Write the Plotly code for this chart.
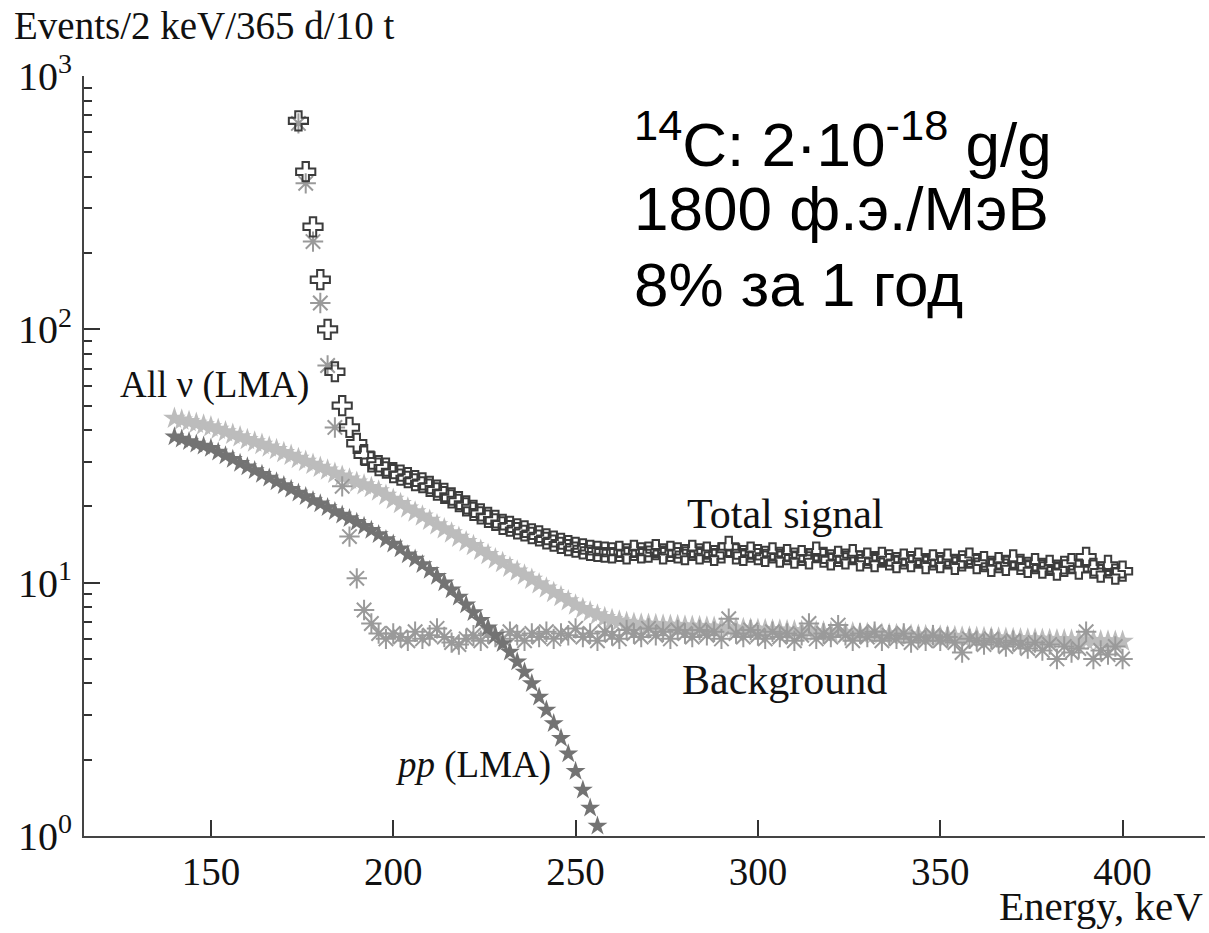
import plotly.graph_objects as go

# ---------------- data ----------------
energy_nu = list(range(140, 401, 2))          # keV, All nu (LMA)
all_nu = [
    44.5, 43.8, 43.2, 42.5, 41.9, 41.2, 40.3, 39.4, 38.5, 37.6,
    36.7, 35.9, 35.1, 34.3, 33.5, 32.6, 31.8, 30.9, 30.1, 29.3,
    28.5, 27.8, 27.0, 26.3, 25.6, 24.9, 24.3, 23.7, 23.0, 22.1,
    21.3, 20.5, 19.7, 19.0, 18.3, 17.6, 16.9, 16.3, 15.7, 15.1,
    14.5, 14.0, 13.4, 12.9, 12.4, 12.0, 11.5, 11.1, 10.7, 10.3,
    9.89, 9.51, 9.14, 8.81, 8.47, 8.15, 7.89, 7.66, 7.45, 7.28,
    7.14, 7.05, 6.97, 6.90, 6.86, 6.84, 6.82, 6.80, 6.78, 6.76,
    6.74, 6.72, 6.70, 6.68, 6.66, 6.64, 6.62, 6.60, 6.58, 6.56,
    6.54, 6.52, 6.50, 6.49, 6.47, 6.45, 6.44, 6.42, 6.40, 6.39,
    6.37, 6.36, 6.34, 6.33, 6.31, 6.30, 6.28, 6.27, 6.25, 6.24,
    6.22, 6.21, 6.19, 6.18, 6.16, 6.15, 6.13, 6.12, 6.10, 6.09,
    6.08, 6.06, 6.05, 6.04, 6.02, 6.01, 6.00, 5.99, 5.98, 5.97,
    5.96, 5.95, 5.94, 5.93, 5.92, 5.91, 5.90, 5.89, 5.88, 5.87,
    5.86,
]

energy_pp = list(range(140, 257, 2))          # keV, pp (LMA)
pp_lma = [
    37.7, 36.9, 36.1, 35.3, 34.6, 33.9, 32.8, 31.7, 30.7, 29.6,
    28.7, 27.7, 26.8, 25.9, 25.0, 24.2, 23.4, 22.6, 21.9, 21.1,
    20.5, 19.8, 19.1, 18.5, 17.9, 17.3, 16.7, 16.1, 15.5, 14.8,
    14.2, 13.6, 12.9, 12.4, 11.8, 11.2, 10.6, 10.0, 9.38, 8.77,
    8.18, 7.62, 7.1, 6.64, 6.2, 5.75, 5.33, 4.87, 4.44, 4.0,
    3.54, 3.14, 2.78, 2.43, 2.11, 1.80, 1.52, 1.29, 1.095,
]

energy_sig = list(range(174, 401, 2))         # keV, total signal & background
total_signal = [
    665, 419, 254, 157, 100, 68, 50, 41, 35.5, 32, 30, 29, 28.3, 27.2,
    26.6, 26.0, 25.3, 24.8, 24.0, 23.2, 22.5, 21.6, 20.9, 20.1,
    19.3, 18.7, 18.1, 17.6, 17.0, 16.7, 16.3, 16.0, 15.6, 15.3,
    14.9, 14.6, 14.3, 14.0, 13.8,
    13.6, 13.4, 13.3, 13.2, 13.1, 13.3, 13.0, 13.4, 13.1, 13.2,
    13.5, 13.0, 13.3, 13.1, 12.9, 13.4, 13.0, 13.2, 12.8, 13.1,
    13.9, 13.0, 12.8, 13.2, 12.9,
    12.7, 13.1, 12.6, 12.9, 12.5, 12.8, 12.4, 13.2, 12.6, 12.3,
    12.7, 12.4, 12.9, 12.2, 12.5, 12.1, 12.6, 12.3, 12.0, 12.4,
    12.1, 12.5, 11.9, 12.3, 12.0,
    12.4, 11.8, 12.2, 12.5, 11.9, 12.1, 11.6, 12.0, 11.7, 12.3,
    11.8, 11.5, 11.9, 11.4, 11.7, 11.2, 11.6, 11.9, 11.3, 12.6,
    11.4, 11.0, 11.7, 10.8, 11.1,
]
background = [
    650, 377, 222, 127, 72, 41, 24, 15.2, 10.4, 7.8, 6.9, 6.3, 6.0, 6.3,
    6.1, 5.9, 6.4, 6.0, 6.2, 6.6, 6.1, 5.8, 5.7, 6.0,
    6.2, 5.9, 6.3, 6.1, 6.0, 6.4, 6.2, 5.9, 6.3, 6.1,
    6.4, 6.0, 6.3, 6.2, 6.6,
    6.1, 6.3, 5.9, 6.4, 6.2, 6.0, 6.5, 6.3, 6.1, 6.6,
    6.2, 6.4, 6.0, 6.5, 6.3, 6.1, 6.5, 6.2, 6.4, 6.0,
    7.2, 6.3, 6.1, 6.5, 6.2,
    6.0, 6.4, 6.1, 6.3, 5.9, 6.2, 6.9, 6.0, 6.3, 6.1,
    6.8, 6.2, 5.9, 6.3, 6.1, 6.4, 5.9, 6.2, 6.0, 6.3,
    5.8, 6.1, 5.9, 6.2, 5.9,
    6.1, 5.8, 5.3, 6.0, 5.9, 5.7, 6.0, 5.8, 5.6, 5.9,
    5.7, 5.5, 5.8, 5.4, 5.7, 5.0, 5.6, 5.3, 5.5, 6.4,
    5.0, 5.4, 5.2, 5.6, 5.0,
]

x_ticks = [150, 200, 250, 300, 350, 400]
y_ticks = [1, 10, 100, 1000]
y_ticktext = ["10<sup>0</sup>", "10<sup>1</sup>", "10<sup>2</sup>", "10<sup>3</sup>"]
y_minor = [m * d for d in (1, 10, 100) for m in range(2, 10)]

assert len(all_nu) == len(energy_nu)
assert len(pp_lma) == len(energy_pp)
assert len(total_signal) == len(energy_sig)
assert len(background) == len(energy_sig)

SERIF = "Liberation Serif"
SANS = "Liberation Sans"

fig = go.Figure()
fig.add_trace(go.Scatter(
    x=energy_nu, y=all_nu, mode="markers", name="All ν (LMA)",
    marker=dict(symbol="star", size=17, color="#bcbcbc", line=dict(width=0)),
))
fig.add_trace(go.Scatter(
    x=energy_sig, y=background, mode="markers", name="Background",
    marker=dict(symbol="asterisk-open", size=17, color="#9a9a9a",
                line=dict(width=2, color="#9a9a9a")),
))
fig.add_trace(go.Scatter(
    x=energy_pp, y=pp_lma, mode="markers", name="pp (LMA)",
    marker=dict(symbol="star", size=15, color="#737373", line=dict(width=0)),
))
fig.add_trace(go.Scatter(
    x=energy_sig, y=total_signal, mode="markers", name="Total signal",
    marker=dict(symbol="cross-open", size=16, color="#3c3c3c",
                line=dict(width=2, color="#3c3c3c")),
))

annotations = [
    dict(x=151.1, y=1.78, xref="x", yref="y", text="All ν (LMA)",
         font=dict(family=SERIF, size=37, color="#111"), showarrow=False),
    dict(x=307.6, y=1.27, xref="x", yref="y", text="Total signal",
         font=dict(family=SERIF, size=42, color="#111"), showarrow=False),
    dict(x=307.4, y=0.615, xref="x", yref="y", text="Background",
         font=dict(family=SERIF, size=42, color="#111"), showarrow=False),
    dict(x=221.9, y=0.279, xref="x", yref="y", text="<i>pp</i> (LMA)",
         font=dict(family=SERIF, size=37, color="#111"), showarrow=False),
    dict(x=1.0, y=(835.7 - 931) / 759.7, xref="paper", yref="paper", text="Energy, keV",
         xanchor="right", yanchor="bottom",
         font=dict(family=SERIF, size=41, color="#111"), showarrow=False),
    dict(x=-0.064, y=1.067, xref="paper", yref="paper", text="Events/2 keV/365 d/10 t",
         xanchor="left", yanchor="middle",
         font=dict(family=SERIF, size=39, color="#111"), showarrow=False),
    dict(x=0.4889, y=(835.7 - 140) / 759.7, xref="paper", yref="paper",
         text="<sup>14</sup>C: 2·10<sup>-18</sup> g/g", xanchor="left", yanchor="middle",
         font=dict(family=SANS, size=62, color="#000"), showarrow=False),
    dict(x=0.4889, y=(835.7 - 208) / 759.7, xref="paper", yref="paper",
         text="1800 ф.э./МэВ", xanchor="left", yanchor="middle",
         font=dict(family=SANS, size=62, color="#000"), showarrow=False),
    dict(x=0.4889, y=(835.7 - 284) / 759.7, xref="paper", yref="paper",
         text="8% за 1 год", xanchor="left", yanchor="middle",
         font=dict(family=SANS, size=62, color="#000"), showarrow=False),
]

fig.update_layout(
    width=1209, height=933,
    margin=dict(l=84, r=4, t=76, b=97, autoexpand=False),
    paper_bgcolor="white", plot_bgcolor="white",
    showlegend=False,
    annotations=annotations,
    xaxis=dict(
        range=[115.2, 422.6], tickvals=x_ticks, ticks="inside", ticklen=16,
        tickwidth=1.5, tickcolor="#333", showline=True, linewidth=2, linecolor="#444",
        showgrid=False, zeroline=False, ticklabelstandoff=0, automargin=False,
        tickfont=dict(family=SERIF, size=39, color="#111"),
    ),
    yaxis=dict(
        type="log", range=[0, 3], tickvals=y_ticks, ticktext=y_ticktext,
        ticks="inside", ticklen=16, tickwidth=1.5, tickcolor="#333",
        showline=True, linewidth=2, linecolor="#444", automargin=False,
        showgrid=False, zeroline=False, ticklabelstandoff=2,
        tickfont=dict(family=SERIF, size=40, color="#111"),
        minor=dict(tickmode="array", tickvals=y_minor, ticks="inside", ticklen=8,
                   tickwidth=1.5, tickcolor="#333", showgrid=False),
    ),
)

fig.write_html(
    "out.html",
    config={"displayModeBar": False},
    post_script="document.body.style.margin='0px'; document.body.style.overflow='hidden';",
)
